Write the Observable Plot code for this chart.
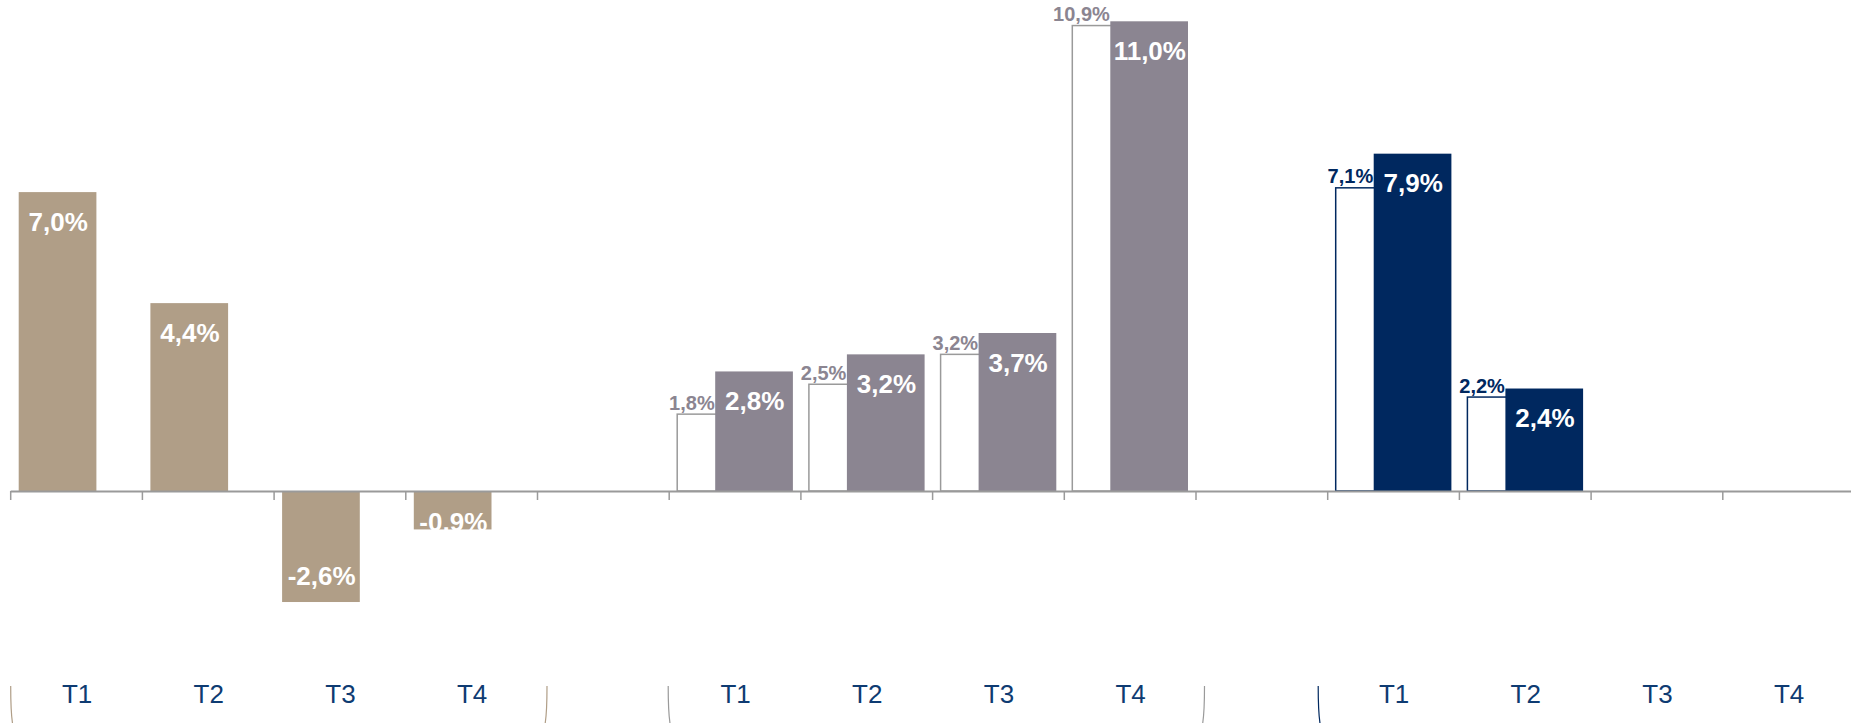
<!DOCTYPE html>
<html><head><meta charset="utf-8">
<script src="https://cdn.jsdelivr.net/npm/d3@7"></script>
<script src="https://cdn.jsdelivr.net/npm/@observablehq/plot@0.6"></script>
<style>body{margin:0;background:#fff;overflow:hidden}</style>
</head><body><div id="chart"></div>
<script>
// ---- data ----
const quarters = ["T1", "T2", "T3", "T4"];
const groups = ["g1", "g2", "g3"];
const group1Values = [7.0, 4.4, -2.6, -0.9];
const group2Prev = [1.8, 2.5, 3.2, 10.9];
const group2Curr = [2.8, 3.2, 3.7, 11.0];
const group3Prev = [7.1, 2.2, null, null];
const group3Curr = [7.9, 2.4, null, null];

// ---- styles ----
const TAN = "#B09E87", GREY = "#8B8591", GREY_LINE = "#9A9A9A", NAVY = "#00285F", TICK_NAVY = "#0E3B72";
const FONT = "Liberation Sans, Arial, sans-serif";

// categories (with gap bands between groups)
const cats = [];
groups.forEach((g, gi) => {
  quarters.forEach(q => cats.push(g + "-" + q));
  if (gi < groups.length - 1) cats.push("gap" + gi);
});
const cat = (g, i) => g + "-" + quarters[i];
const fmt = v => v.toFixed(1).replace(".", ",") + "%";

// rows
const slotA = group1Values.map((v, i) => ({cat: cat("g1", i), value: v, color: TAN}));
const slotB = [
  ...group2Curr.map((v, i) => ({cat: cat("g2", i), value: v, color: GREY})),
  ...group3Curr.map((v, i) => ({cat: cat("g3", i), value: v, color: NAVY}))
].filter(d => d.value != null);
const outline = [
  ...group2Prev.map((v, i) => ({cat: cat("g2", i), value: v, stroke: GREY_LINE, color: GREY})),
  ...group3Prev.map((v, i) => ({cat: cat("g3", i), value: v, stroke: NAVY, color: NAVY}))
].filter(d => d.value != null);

const W = 1851, H = 723;
const X0 = 10.7, X1 = 1854.5;
const BW = (X1 - X0) / cats.length;
const PXU = 42.7, Y0 = 491;
const groupColors = [TAN, GREY_LINE, NAVY];

const decor = (index, scales) => {
  const g = d3.create("svg:g");
  const x = scales.x, y = scales.y;
  const bw = x.bandwidth ? x.bandwidth() : BW;
  const y0 = y(0);
  // boundary ticks
  const bounds = cats.map(c => x(c)).concat([x(cats[cats.length - 1]) + bw]);
  bounds.forEach(b => g.append("line").attr("x1", b).attr("x2", b).attr("y1", y0).attr("y2", y0 + 9)
    .attr("stroke", GREY_LINE).attr("stroke-width", 1.5));
  // brackets under groups
  const offL = [0, -1, -9.5], offR = [9.5, 8.5, 9.5];
  groups.forEach((gname, gi) => {
    const l = x(cat(gname, 0)) + offL[gi];
    const r = x(cat(gname, 3)) + bw + offR[gi];
    const top = H - 37, bot = H + 6;
    g.append("path").attr("d", `M${l},${top} Q${l},${bot - 10} ${l + 3},${bot}`)
      .attr("fill", "none").attr("stroke", groupColors[gi]).attr("stroke-width", 1.2);
    g.append("path").attr("d", `M${r},${top} Q${r},${bot - 10} ${r - 3},${bot}`)
      .attr("fill", "none").attr("stroke", groupColors[gi]).attr("stroke-width", 1.2);
  });
  return g.node();
};

const pos = a => a.filter(d => d.value >= 0);
const neg = a => a.filter(d => d.value < 0);

const chart = Plot.plot({
  width: W, height: H,
  marginLeft: X0, marginRight: 0, marginTop: 0, marginBottom: 39,
  x: {domain: cats, range: [X0, X1], padding: 0, round: false},
  y: {domain: [0, 10], range: [Y0, Y0 - 10 * PXU], axis: null},
  color: {type: "identity"},
  style: {fontFamily: FONT, background: "#fff", overflow: "visible"},
  marks: [
    Plot.barY(outline, {x: "cat", y: "value", fill: "white", stroke: "stroke", strokeWidth: 1.5, insetLeft: 8, insetRight: 46}),
    Plot.barY(slotA, {x: "cat", y: "value", fill: "color", insetLeft: 8, insetRight: 46}),
    Plot.barY(slotB, {x: "cat", y: "value", fill: "color", insetLeft: 46, insetRight: 8}),
    Plot.ruleY([0], {stroke: GREY_LINE, strokeWidth: 2}),
    decor,
    // labels inside solid bars
    Plot.text(pos(slotA), {x: "cat", y: "value", text: d => fmt(d.value), fill: "white", fontWeight: "bold", fontSize: 26, lineAnchor: "bottom", dx: 47 - BW / 2, dy: 38}),
    Plot.text(neg(slotA), {x: "cat", y: d => Math.min(d.value + 18 / PXU, -39 / PXU), text: d => fmt(d.value), fill: "white", fontWeight: "bold", fontSize: 26, lineAnchor: "bottom", dx: 47 - BW / 2}),
    Plot.text(slotB, {x: "cat", y: "value", text: d => fmt(d.value), fill: "white", fontWeight: "bold", fontSize: 26, lineAnchor: "bottom", dx: 85 - BW / 2, dy: 38}),
    // labels above outline bars
    Plot.text(outline, {x: "cat", y: "value", text: d => fmt(d.value), fill: "color", fontWeight: "bold", fontSize: 20, textAnchor: "end", lineAnchor: "bottom", dx: 45 - BW / 2, dy: -5}),
    Plot.axisX({anchor: "bottom", tickSize: 0, tickPadding: 0, fontSize: 26, color: TICK_NAVY, label: null,
      tickFormat: d => d.startsWith("gap") ? "" : d.split("-")[1]})
  ]
});
document.getElementById("chart").appendChild(chart);
</script>
</body></html>
